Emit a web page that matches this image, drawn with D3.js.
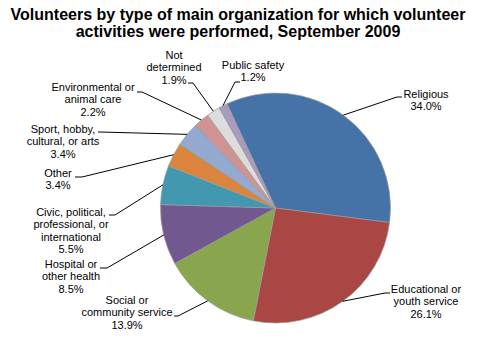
<!DOCTYPE html>
<html><head><meta charset="utf-8">
<script src="https://cdn.jsdelivr.net/npm/d3@7"></script>
<style>
html,body{margin:0;padding:0;background:#fff;}
svg{display:block;font-family:"Liberation Sans",Arial,sans-serif;}
</style></head>
<body>
<svg id="chart" width="482" height="337"></svg>
<script>
const categories = ["Religious","Educational or youth service","Social or community service","Hospital or other health","Civic, political, professional, or international","Other","Sport, hobby, cultural, or arts","Environmental or animal care","Not determined","Public safety"];
const values = [34.0, 26.1, 13.9, 8.5, 5.5, 3.4, 3.4, 2.2, 1.9, 1.2];
const labelLines = [
  ["Religious","34.0%"],
  ["Educational or","youth service","26.1%"],
  ["Social or","community service","13.9%"],
  ["Hospital or","other health","8.5%"],
  ["Civic, political,","professional, or","international","5.5%"],
  ["Other","3.4%"],
  ["Sport, hobby,","cultural, or arts","3.4%"],
  ["Environmental or","animal care","2.2%"],
  ["Not","determined","1.9%"],
  ["Public safety","1.2%"]
];
const colors = ["#4572A7","#AA4643","#89A54E","#71588F","#4198AF","#DB843D","#93A9CF","#D19392","#DCDCDC","#A99BBD"];
const titleLines = ["Volunteers by type of main organization for which volunteer","activities were performed, September 2009"];

// label layout: text centre x, first baseline y, elbow point, leader end x
const labelLayout = [
  {cx:426, y:98,  ex:397, ey:97,  tx:402},
  {cx:426, y:293, ex:385, ey:293, tx:390},
  {cx:127, y:304, ex:178, ey:316, tx:174},
  {cx:71,  y:268, ex:107, ey:268, tx:100},
  {cx:71,  y:216, ex:115, ey:215, tx:109},
  {cx:58,  y:177, ex:82,  ey:177, tx:75},
  {cx:63,  y:133, ex:100, ey:132, tx:98},
  {cx:93,  y:91,  ex:142, ey:92,  tx:137},
  {cx:174, y:59,  ex:193, ey:83,  tx:188},
  {cx:253, y:69,  ex:235, ey:82,  tx:240}
];

const svg = d3.select("#chart");
const cx = 275.5, cy = 208, r = 115;
const startDeg = -25;

svg.append("g").selectAll("text").data(titleLines).join("text")
  .attr("x", 238).attr("y", (d,i)=>20+i*17)
  .attr("text-anchor","middle")
  .style("font-weight","bold").style("font-size","16px").attr("fill","#000")
  .text(d=>d);

const data = categories.map((c,i)=>({name:c, value:values[i], color:colors[i], lines:labelLines[i], lay:labelLayout[i]}));
const pie = d3.pie().value(d=>d.value).sort(null)
  .startAngle(startDeg*Math.PI/180).endAngle(startDeg*Math.PI/180+2*Math.PI);
const arcs = pie(data);
const arc = d3.arc().innerRadius(0).outerRadius(r);
const edge = d3.arc().innerRadius(r).outerRadius(r);

const g = svg.append("g").attr("transform",`translate(${cx},${cy})`);
g.selectAll("path").data(arcs).join("path")
  .attr("d", arc).attr("fill", d=>d.data.color)
  .attr("stroke","#9a9a9a").attr("stroke-width",0.7);

// leader lines
svg.append("g").selectAll("polyline").data(arcs).join("polyline")
  .attr("points", d=>{
    const p = edge.centroid(d);
    const L = d.data.lay;
    return [[cx+p[0],cy+p[1]],[L.ex,L.ey],[L.tx,L.ey]].map(q=>q.join(",")).join(" ");
  })
  .attr("fill","none").attr("stroke","#000").attr("stroke-width",1);

const lg = svg.append("g");
arcs.forEach(d=>{
  const L = d.data.lay;
  lg.append("text").attr("text-anchor","middle").style("font-size","11px").attr("fill","#000")
    .selectAll("tspan").data(d.data.lines).join("tspan")
    .attr("x", L.cx).attr("y",(t,i)=>L.y+i*12.3).text(t=>t);
});
</script>
</body></html>
